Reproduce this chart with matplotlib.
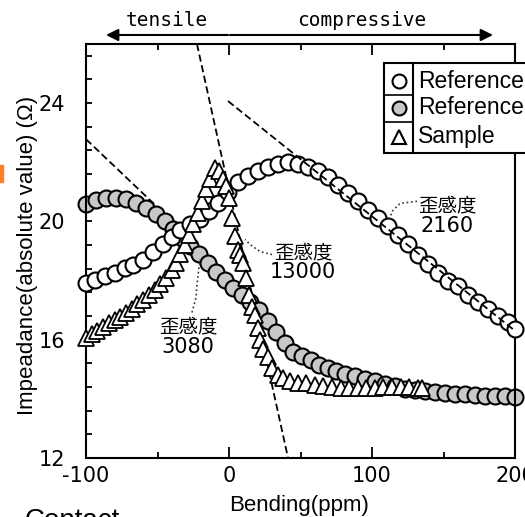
import matplotlib
matplotlib.use("Agg")
import matplotlib.pyplot as plt
import matplotlib.transforms as mtransforms
from matplotlib.patches import Rectangle
from matplotlib.lines import Line2D
from matplotlib.ticker import FixedLocator, MultipleLocator

plt.rcParams['axes.unicode_minus'] = False

# Reference (open circles)
ref_x = [-100, -94, -87, -80, -73, -67, -60, -53, -46, -40, -34, -27, -20, -14, -8, -1,
         6, 13, 20, 27, 34, 41, 48, 55, 62, 69, 76, 83, 90, 97, 104, 111, 118, 125,
         132, 139, 146, 153, 160, 167, 174, 181, 188, 195, 200]
ref_y = [17.93, 18.03, 18.14, 18.27, 18.44, 18.54, 18.68, 18.95, 19.25, 19.49, 19.72,
         19.9, 20.07, 20.35, 20.64, 20.98, 21.32, 21.53, 21.69, 21.83, 21.93, 22.0,
         21.95, 21.85, 21.69, 21.49, 21.22, 20.95, 20.7, 20.4, 20.1, 19.85, 19.55,
         19.22, 18.88, 18.55, 18.25, 18.0, 17.8, 17.52, 17.28, 17.05, 16.8, 16.6, 16.36]

# Reference2 (grey circles)
ref2_x = [-100, -93, -86, -79, -72, -65, -58, -51, -45, -39, -33, -27, -21, -15, -9, -3,
          3, 9, 15, 21, 27, 33, 39, 45, 51, 57, 63, 69, 75, 81, 88, 95, 102, 109, 116,
          123, 130, 137, 144, 151, 158, 165, 172, 179, 186, 193, 200]
ref2_y = [20.58, 20.72, 20.8, 20.8, 20.75, 20.64, 20.47, 20.25, 20.0, 19.75, 19.45,
          19.18, 18.9, 18.6, 18.3, 18.02, 17.76, 17.5, 17.28, 17.02, 16.62, 16.25,
          15.88, 15.6, 15.45, 15.32, 15.15, 15.05, 14.95, 14.85, 14.78, 14.68, 14.6,
          14.5, 14.42, 14.35, 14.3, 14.26, 14.23, 14.2, 14.18, 14.15, 14.13, 14.11,
          14.09, 14.08, 14.07]

# Sample (triangles)
smp_x = [-100, -96, -92, -88, -84, -80, -76, -72, -68, -64, -60, -56, -52, -48, -44, -40,
         -37, -34, -31, -28, -25, -22, -19, -16, -13, -10, -7, -4, -2, 0, 2, 4, 6, 8,
         10, 12, 14, 16, 18, 20, 22, 24, 27, 30, 34, 38, 43, 48, 54, 60, 66, 72, 78,
         84, 90, 96, 102, 108, 114, 120, 126, 132, 135]
smp_y = [16.07, 16.2, 16.3, 16.42, 16.55, 16.67, 16.78, 16.92, 17.05, 17.2, 17.35,
         17.5, 17.68, 17.88, 18.1, 18.35, 18.6, 18.9, 19.2, 19.55, 19.9, 20.3, 20.7,
         21.1, 21.45, 21.8, 21.7, 21.45, 21.2, 20.8, 20.1, 19.5, 19.05, 18.85, 18.6,
         18.1, 17.5, 17.1, 16.85, 16.4, 16.0, 15.7, 15.42, 15.05, 14.8, 14.7, 14.6,
         14.55, 14.52, 14.48, 14.44, 14.4, 14.38, 14.37, 14.37, 14.37, 14.38, 14.39,
         14.4, 14.4, 14.39, 14.38, 14.37]

# tangent lines (dashed)
tan_sample_x = [-22.4, 41.3]
tan_sample_y = [26.0, 12.0]
tan_ref2_x = [-100, -30]
tan_ref2_y = [22.78, 19.56]
tan_ref_x = [-0.7, 200]
tan_ref_y = [24.07, 16.3]

W, H = 525, 517
fig = plt.figure(figsize=(W / 100, H / 100), dpi=100)
ax = fig.add_axes([86 / W, 1 - 458 / H, 429 / W, 414 / H])

def fpx(px, py):
    # figure fraction from pixel position (origin top-left)
    return px / W, 1 - py / H

dash = (0, (4, 2))
ax.plot(tan_sample_x, tan_sample_y, color='k', lw=1.3, ls=dash, zorder=1)
ax.plot(tan_ref2_x, tan_ref2_y, color='k', lw=1.3, ls=dash, zorder=1)
ax.plot(tan_ref_x, tan_ref_y, color='k', lw=1.3, ls=dash, zorder=4)

ax.plot(ref_x, ref_y, 'o', ms=11.5, mfc='white', mec='k', mew=1.5, zorder=3, clip_on=False)
ax.plot(ref2_x, ref2_y, 'o', ms=11.5, mfc='#c8c8c8', mec='k', mew=1.5, zorder=2, clip_on=False)
ax.plot(smp_x, smp_y, '^', ms=12, mfc='white', mec='k', mew=1.3, zorder=3, clip_on=False)

# dotted leaders to the sensitivity labels
ax.plot([131.5, 119.6, 114, 111.9], [20.68, 20.61, 20.34, 20.0], ls=':', color='#333333', lw=1.2, zorder=5)
ax.plot([30.1, 21.7, 14.7, 11.2], [18.88, 18.98, 19.22, 19.39], ls=':', color='#333333', lw=1.2, zorder=5)
ax.plot([-25.9, -23.1, -22.4, -21.0, -20.3], [16.92, 17.42, 17.86, 18.44, 18.71], ls=':', color='#333333', lw=1.2, zorder=5)

jp = dict(family='Noto Sans CJK JP', fontsize=14, ha='center', va='center', zorder=6)
num = dict(family='Liberation Sans Narrow', fontsize=15, ha='center', va='center', zorder=6)
ax.text(152.4, 20.51, '歪感度', **jp)
ax.text(152.4, 19.83, '2160', **num)
ax.text(51.7, 18.95, '歪感度', **jp)
ax.text(51.7, 18.3, '13000', **num)
ax.text(-28.7, 16.44, '歪感度', **jp)
ax.text(-28.7, 15.76, '3080', **num)

ax.set_xlim(-100, 200)
ax.set_ylim(12, 26)
ax.xaxis.set_major_locator(FixedLocator([-100, 0, 100, 200]))
ax.xaxis.set_minor_locator(FixedLocator([-50, 50, 150]))
ax.set_xticklabels(['-100', '0', '100', '200'])
ax.yaxis.set_major_locator(FixedLocator([12, 16, 20, 24]))
ax.yaxis.set_minor_locator(MultipleLocator(0.8))
ax.tick_params(axis='x', which='major', direction='in', length=8, width=1.3, top=True, pad=5.5)
ax.tick_params(axis='x', which='minor', direction='in', length=4, width=1.3, top=True)
ax.tick_params(axis='y', which='both', direction='in', length=4.5, width=1.3, right=False, pad=15)
for lab in ax.get_xticklabels() + ax.get_yticklabels():
    lab.set_family('Liberation Sans Narrow')
    lab.set_fontsize(15)
for s in ax.spines.values():
    s.set_linewidth(1.5)

fig.text(*fpx(28, 255), 'Impeadance(absolute value) (Ω)', rotation=90, ha='center', va='center',
         family='Liberation Sans', fontsize=16)
fig.text(*fpx(299, 505), 'Bending(ppm)', ha='center', va='center', family='Liberation Sans', fontsize=16)

# tensile / compressive arrows
tr = mtransforms.blended_transform_factory(ax.transData, fig.transFigure)
ya = 1 - 35 / H
arr = dict(arrowstyle='-|>', lw=1.5, color='k', shrinkA=0, shrinkB=0, mutation_scale=18)
ax.annotate('', xy=(-86, ya), xytext=(-0.7, ya), xycoords=tr, textcoords=tr, arrowprops=arr, annotation_clip=False)
ax.annotate('', xy=(184.6, ya), xytext=(0.7, ya), xycoords=tr, textcoords=tr, arrowprops=arr, annotation_clip=False)
ax.text(-43.4, 1 - 20 / H, 'tensile', transform=tr, ha='center', va='center', family='DejaVu Sans Mono', fontsize=14)
ax.text(93, 1 - 20 / H, 'compressive', transform=tr, ha='center', va='center', family='DejaVu Sans Mono', fontsize=14)

# legend drawn as a small table, cut by the right edge
x0, y0 = fpx(384, 153)
x1, y1 = fpx(545, 63)
fig.patches.append(Rectangle((x0, y0), x1 - x0, y1 - y0, transform=fig.transFigure,
                             facecolor='white', edgecolor='k', lw=1.5, zorder=10))
fig.lines.append(Line2D([413 / W, 413 / W], [y0, y1], transform=fig.transFigure, color='k', lw=1.5, zorder=11))
for yy in [95, 122]:
    fig.lines.append(Line2D([384 / W, 413 / W], [1 - yy / H] * 2, transform=fig.transFigure,
                            color='k', lw=1.2, zorder=11))
leg_rows = [(81, 'o', 'white', 'Reference1'), (108, 'o', '#c8c8c8', 'Reference2'), (137, '^', 'white', 'Sample')]
for yy, mk, fc, name in leg_rows:
    fig.lines.append(Line2D([398.5 / W], [1 - yy / H], transform=fig.transFigure, marker=mk, ms=10,
                            mfc=fc, mec='k', mew=1.5, ls='none', zorder=12))
    fig.text(418 / W, 1 - yy / H, name, ha='left', va='center', family='Liberation Sans', fontsize=16.5, zorder=12)

# leftovers from the page crop
fig.patches.append(Rectangle(fpx(0, 182), 3 / W, 17 / H, transform=fig.transFigure, color='#ff7f27'))
fig.text(25 / W, 1 - 528 / H, 'Contact', ha='left', va='baseline', family='Liberation Sans', fontsize=20)

fig.savefig('out.png', dpi=100)
